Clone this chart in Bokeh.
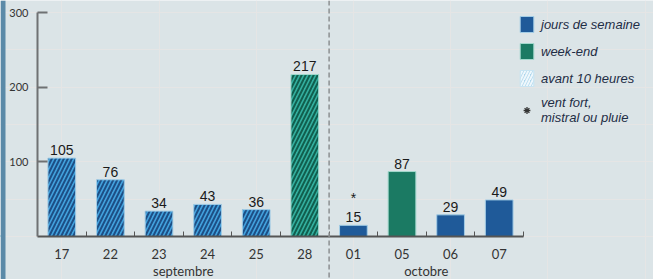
from bokeh.plotting import figure
from bokeh.models import (ColumnDataSource, Range1d, FixedTicker, LinearAxis,
                          Span, Legend, LegendItem, BoxAnnotation)
from bokeh.core.properties import value
from bokeh.embed import file_html
from bokeh.resources import INLINE

# ---- data ----
days = ["17", "22", "23", "24", "25", "28", "01", "05", "06", "07"]
counts = [105, 76, 34, 43, 36, 217, 15, 87, 29, 49]
day_type = ["semaine", "semaine", "semaine", "semaine", "semaine",
            "week-end", "semaine", "week-end", "semaine", "semaine"]
before_10h = [True, True, True, True, True, True, False, False, False, False]
windy = [False, False, False, False, False, False, True, False, False, False]
months = ["septembre", "octobre"]
month_days = [6, 4]
y_ticks = [100, 200, 300]
legend_labels = ["jours de semaine", "week-end", "avant 10 heures",
                 "vent fort,\nmistral ou pluie"]

# ---- styles ----
FONT = "Liberation Sans"
AXFONT = "Lato"
BG = "#dbe4e7"
solid = {"semaine": "#1f5a99", "week-end": "#1b7a63"}
light = {"semaine": "#42a2de", "week-end": "#33b0a0"}
dark = {"semaine": "#1d4f86", "week-end": "#115f4e"}
edge = {"semaine": "#a3cde6", "week-end": "#a3d8cd"}

n = len(days)
xs = list(range(n))
src = ColumnDataSource(dict(
    x=xs,
    top=counts,
    fill=[light[t] if b else solid[t] for t, b in zip(day_type, before_10h)],
    hatch=["/" if b else " " for b in before_10h],
    hcol=[dark[t] for t in day_type],
    lcol=[edge[t] for t in day_type],
    label=[str(c) for c in counts],
    star=["*" if w else "" for w in windy],
))

W, H = 653, 279
cat_px = 48.6           # pixels per day slot
axis_x_px = 37          # y axis position from the left
px_per_unit = 224 / 300  # vertical scale
base_px = 236           # baseline position from the top
x0 = -0.5
p = figure(width=W, height=H,
           x_range=Range1d(x0 - axis_x_px / cat_px, x0 + (W - axis_x_px) / cat_px),
           y_range=Range1d(-(H - base_px) / px_per_unit, base_px / px_per_unit),
           output_backend="svg", toolbar_location=None,
           x_axis_location=None, y_axis_location=None,
           min_border=0, min_border_left=0, min_border_right=0,
           min_border_top=0, min_border_bottom=0,
           background_fill_color=BG, border_fill_color=BG,
           outline_line_color=None)

# left decorative strip
p.add_layout(BoxAnnotation(right=x0 - (axis_x_px - 5) / cat_px,
                           fill_color="#5b8aa8", fill_alpha=1,
                           line_color=None))

# separator between months
sep_x = x0 + month_days[0]
p.add_layout(Span(location=sep_x, dimension="height", line_color="#8c8f91",
                  line_width=1.5, line_dash="5 3"))

p.vbar(x="x", top="top", bottom=0, width=0.57, source=src,
       fill_color="fill", hatch_pattern="hatch", hatch_color="hcol",
       hatch_scale=8, hatch_weight=2, line_color="lcol", line_width=1)

p.text(x="x", y="top", text="label", source=src, text_align="center",
       text_baseline="bottom", y_offset=-3, text_font=value(FONT),
       text_font_size="14px", text_color="#1a1a1a")
p.text(x="x", y="top", text="star", source=src, text_align="center",
       text_baseline="bottom", y_offset=-19, text_font=value(FONT),
       text_font_size="14px", text_color="#1a1a1a")

# y axis
yax = LinearAxis(ticker=FixedTicker(ticks=y_ticks, minor_ticks=[]),
                 bounds=(0, 300), fixed_location=x0,
                 major_tick_in=10, major_tick_out=0,
                 minor_tick_line_color=None,
                 axis_line_color="#6f7173", axis_line_width=2,
                 major_tick_line_color="#6f7173", major_tick_line_width=2,
                 major_label_standoff=9,
                 major_label_text_font=AXFONT,
                 major_label_text_font_size="11px",
                 major_label_text_color="#333333")
p.add_layout(yax, "left")

# x axis (days)
xax = LinearAxis(ticker=FixedTicker(ticks=xs,
                                    minor_ticks=[i + 0.5 for i in xs]),
                 bounds=(x0, n - 0.5), fixed_location=0,
                 major_label_overrides={i: d for i, d in zip(xs, days)},
                 major_tick_line_color=None,
                 minor_tick_in=5, minor_tick_out=0,
                 minor_tick_line_color="#555555", minor_tick_line_width=1,
                 axis_line_color="#555555", axis_line_width=2,
                 major_label_standoff=6,
                 major_label_text_font=AXFONT,
                 major_label_text_font_size="13px",
                 major_label_text_color="#333333")
p.add_layout(xax, "below")

# month axis
starts = [x0 + sum(month_days[:i]) for i in range(len(months))]
centers = [s + m / 2 for s, m in zip(starts, month_days)]
gax = LinearAxis(ticker=FixedTicker(ticks=centers, minor_ticks=[]),
                 fixed_location=0,
                 major_label_overrides={c: m for c, m in zip(centers, months)},
                 axis_line_color=None, major_tick_line_color=None,
                 minor_tick_line_color=None,
                 major_label_standoff=20,
                 major_label_text_font=AXFONT,
                 major_label_text_font_size="13px",
                 major_label_text_color="#333333")
p.add_layout(gax, "below")

# legend (proxy renderers placed far outside the view)
far = [-1000]
r_week = p.vbar(x=far, top=[1], width=0.5, fill_color=solid["semaine"],
                line_color=edge["semaine"])
r_wend = p.vbar(x=far, top=[1], width=0.5, fill_color=solid["week-end"],
                line_color=edge["week-end"])
r_early = p.vbar(x=far, top=[1], width=0.5, fill_color="#acd5ec",
                 hatch_pattern="/", hatch_color="#eef7fc", hatch_scale=6,
                 hatch_weight=2, line_color="#c8e4f2")
r_wind = p.scatter(x=far, y=[1], marker="asterisk", size=7,
                   line_color="#333333", line_width=1.3)
legend = Legend(items=[LegendItem(label=l, renderers=[r])
                       for l, r in zip(legend_labels,
                                       [r_week, r_wend, r_early, r_wind])],
                location=(518, 154), orientation="vertical",
                glyph_width=17, glyph_height=20, label_height=20,
                label_standoff=6, spacing=7, padding=0, margin=0,
                border_line_color=None, background_fill_alpha=0,
                label_text_font=FONT, label_text_font_style="italic",
                label_text_font_size="13px", label_text_color="#1e2d45")
p.add_layout(legend, "center")

open("out.html", "w").write(file_html(p, INLINE))
